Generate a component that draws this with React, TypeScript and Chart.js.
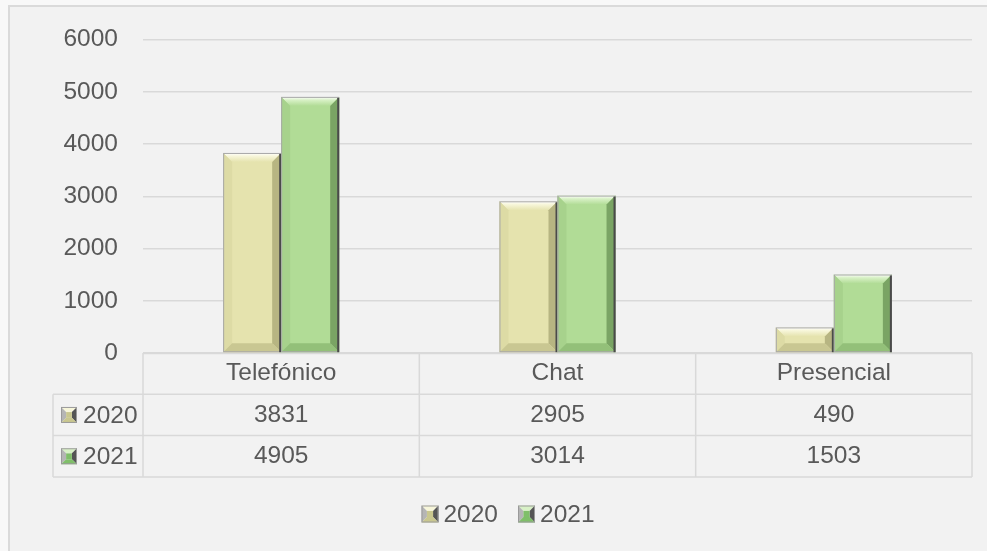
import { useEffect, useRef } from "react";
import { Chart, registerables } from "chart.js";

Chart.register(...registerables);

const categories = ["Telefónico", "Chat", "Presencial"];
const seriesLabels = ["2020", "2021"];
const values2020 = [3831, 2905, 490];
const values2021 = [4905, 3014, 1503];
const yMax = 6000;
const yStep = 1000;

const FAMILY = '"Liberation Sans", Arial, sans-serif';
const FSIZE = 24.5;
const FONT = `${FSIZE}px ${FAMILY}`;
const TEXT = "#595959";
const LINE = "#d9d9d9";

const palettes = [
  { base: "#e5e3ae", top: "#f7f6da", left: "#dddba5", right: "#b7b582", bottom: "#c9c792", icon: "#c9c78f" },
  { base: "#b1dc96", top: "#d8f1c6", left: "#a7d28c", right: "#7aa464", bottom: "#93c079", icon: "#7fbf69" },
];

function bevel(ctx: CanvasRenderingContext2D, l: number, t: number, r: number, b: number, d: number, p: any) {
  const h = b - t;
  const w = r - l;
  const dd = Math.min(d, h / 2, w / 2);
  const poly = (pts: number[][], c: string | CanvasGradient) => {
    ctx.beginPath();
    ctx.moveTo(pts[0][0], pts[0][1]);
    for (let i = 1; i < pts.length; i++) ctx.lineTo(pts[i][0], pts[i][1]);
    ctx.closePath();
    ctx.fillStyle = c;
    ctx.fill();
  };
  const g = ctx.createLinearGradient(0, t, 0, t + dd);
  g.addColorStop(0, "#ffffff");
  g.addColorStop(0.35, p.top);
  g.addColorStop(1, p.base);
  poly([[l, t], [r, t], [r - dd, t + dd], [l + dd, t + dd]], g);
  poly([[l, t], [l + dd, t + dd], [l + dd, b - dd], [l, b]], p.left);
  poly([[r, t], [r, b], [r - dd, b - dd], [r - dd, t + dd]], p.right);
  poly([[l, b], [l + dd, b - dd], [r - dd, b - dd], [r, b]], p.bottom);
  ctx.lineWidth = 1;
  ctx.strokeStyle = "#a8a8a8";
  ctx.strokeRect(l + 0.5, t + 0.5, w - 1, h - 1);
  ctx.strokeStyle = "#4a4a4a";
  ctx.lineWidth = 2;
  ctx.beginPath();
  ctx.moveTo(r - 1, t + 1);
  ctx.lineTo(r - 1, b);
  ctx.stroke();
}

function icon(ctx: CanvasRenderingContext2D, x: number, yc: number, s: number, p: any) {
  const l = x, t = yc - s / 2, r = x + s, b = yc + s / 2;
  const cx = x + s / 2, cy = yc;
  const m = s * 0.18;
  const poly = (pts: number[][], c: string) => {
    ctx.beginPath();
    ctx.moveTo(pts[0][0], pts[0][1]);
    for (let i = 1; i < pts.length; i++) ctx.lineTo(pts[i][0], pts[i][1]);
    ctx.closePath();
    ctx.fillStyle = c;
    ctx.fill();
  };
  poly([[l, t], [r, t], [cx + m, cy - m], [cx - m, cy - m]], p.top);
  poly([[l, t], [cx - m, cy - m], [cx - m, cy + m], [l, b]], "#b5b5b5");
  poly([[r, t], [r, b], [cx + m, cy + m], [cx + m, cy - m]], "#555555");
  poly([[l, b], [cx - m, cy + m], [cx + m, cy + m], [r, b]], p.icon);
  ctx.fillStyle = p.icon;
  ctx.fillRect(cx - m, cy - m, 2 * m, 2 * m);
  ctx.strokeStyle = "#9a9a9a";
  ctx.lineWidth = 1;
  ctx.strokeRect(l + 0.5, t + 0.5, s - 1, s - 1);
}

const bevelPlugin = {
  id: "bevelBars",
  afterDatasetsDraw(chart: any) {
    const ctx = chart.ctx as CanvasRenderingContext2D;
    chart.data.datasets.forEach((_ds: any, di: number) => {
      const meta = chart.getDatasetMeta(di);
      meta.data.forEach((el: any) => {
        const { x, y, base, width } = el.getProps(["x", "y", "base", "width"], true);
        ctx.save();
        bevel(ctx, x - width / 2, y, x + width / 2, base, 9, palettes[di]);
        ctx.restore();
      });
    });
  },
};

const tablePlugin = {
  id: "dataTable",
  afterDraw(chart: any) {
    const ctx = chart.ctx as CanvasRenderingContext2D;
    const area = chart.chartArea;
    const xs = chart.scales.x;
    const rowH = 41.3;
    const top = area.bottom;
    const labelLeft = area.left - 90;
    const rows = [values2020, values2021];
    const colW = (area.right - area.left) / categories.length;
    ctx.save();
    ctx.strokeStyle = LINE;
    ctx.lineWidth = 1.5;
    const hline = (y: number, x1: number, x2: number) => {
      ctx.beginPath();
      ctx.moveTo(x1, y);
      ctx.lineTo(x2, y);
      ctx.stroke();
    };
    const vline = (x: number, y1: number, y2: number) => {
      ctx.beginPath();
      ctx.moveTo(x, y1);
      ctx.lineTo(x, y2);
      ctx.stroke();
    };
    const bottom = top + rowH * 3;
    hline(top + 0.5, area.left, area.right);
    hline(top + rowH, labelLeft, area.right);
    hline(top + rowH * 2, labelLeft, area.right);
    hline(bottom, labelLeft, area.right);
    for (let i = 0; i <= categories.length; i++) {
      vline(area.left + i * colW, top, bottom);
    }
    vline(labelLeft, top + rowH, bottom);

    ctx.font = FONT;
    ctx.fillStyle = TEXT;
    ctx.textAlign = "center";
    ctx.textBaseline = "middle";
    categories.forEach((c, i) => {
      const cx = xs.getPixelForValue(i);
      ctx.fillText(c, cx, top + rowH / 2);
      rows.forEach((r, ri) => {
        ctx.fillText(String(r[i]), cx, top + rowH * (ri + 1.5));
      });
    });
    ctx.textAlign = "left";
    seriesLabels.forEach((s, ri) => {
      const yc = top + rowH * (ri + 1.5);
      icon(ctx, labelLeft + 8, yc, 16, palettes[ri]);
      ctx.fillStyle = TEXT;
      ctx.fillText(s, labelLeft + 30, yc + 1);
    });

    // legend
    const ly = 514;
    const itemW = seriesLabels.map((s) => 22 + ctx.measureText(s).width);
    const gap = 20;
    const total = itemW.reduce((a, b) => a + b, 0) + gap * (seriesLabels.length - 1);
    let lx = 508 - total / 2;
    seriesLabels.forEach((s, i) => {
      icon(ctx, lx, ly, 17, palettes[i]);
      ctx.fillStyle = TEXT;
      ctx.fillText(s, lx + 22, ly + 1);
      lx += itemW[i] + gap;
    });
    ctx.restore();
  },
};

export default function App() {
  const ref = useRef<HTMLCanvasElement | null>(null);
  useEffect(() => {
    if (!ref.current) return;
    const chart = new Chart(ref.current, {
      type: "bar",
      data: {
        labels: categories,
        datasets: [
          { label: seriesLabels[0], data: values2020, backgroundColor: palettes[0].base, borderWidth: 0, barPercentage: 1, categoryPercentage: 0.42 },
          { label: seriesLabels[1], data: values2021, backgroundColor: palettes[1].base, borderWidth: 0, barPercentage: 1, categoryPercentage: 0.42 },
        ],
      },
      options: {
        animation: false,
        responsive: true,
        maintainAspectRatio: false,
        layout: { padding: { left: 0, right: 15, top: 35, bottom: 198 } },
        plugins: { legend: { display: false }, tooltip: { enabled: false } },
        scales: {
          x: { display: false },
          y: {
            min: 0,
            max: yMax,
            ticks: {
              stepSize: yStep,
              color: TEXT,
              font: { family: FAMILY, size: FSIZE },
              padding: 25,
              callback: (v: any) => String(v),
            },
            grid: { color: LINE, lineWidth: 1.5, drawTicks: false },
            border: { display: false },
            afterFit: (s: any) => {
              s.width = 143;
            },
          },
        },
      },
      plugins: [bevelPlugin, tablePlugin],
    });
    return () => chart.destroy();
  }, []);
  return (
    <div style={{ position: "fixed", left: 0, top: 0, width: 987, height: 551, background: "#f8f8f8", overflow: "hidden" }}>
      <div style={{ position: "absolute", left: 8, top: 5, width: 1000, height: 560, border: "2px solid #dadada", background: "#f2f2f2" }} />
      <div style={{ position: "absolute", left: 0, top: 0, width: 987, height: 551 }}>
        <canvas ref={ref} />
      </div>
    </div>
  );
}
